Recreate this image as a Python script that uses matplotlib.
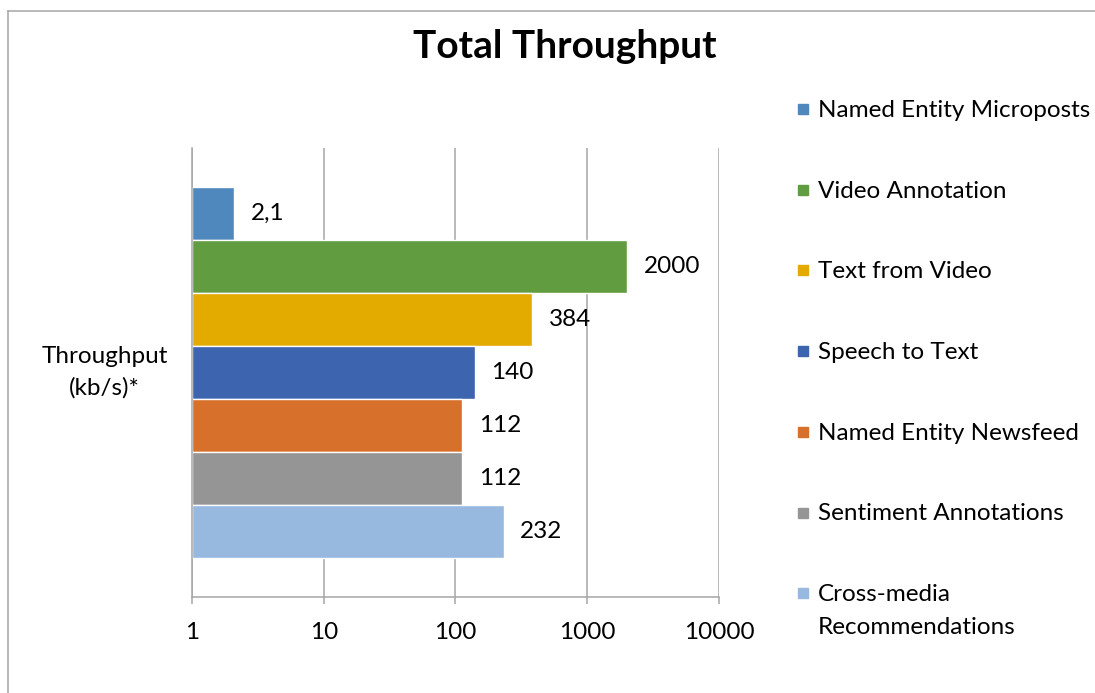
import matplotlib.pyplot as plt
from matplotlib.patches import Rectangle
from matplotlib.lines import Line2D

plt.rcParams['font.family'] = ['Lato', 'DejaVu Sans']

series = ['Named Entity Microposts', 'Video Annotation', 'Text from Video',
          'Speech to Text', 'Named Entity Newsfeed', 'Sentiment Annotations',
          'Cross-media\nRecommendations']
values = [2.1, 2000, 384, 140, 112, 112, 232]
colors = ['#4f88bd', '#629c40', '#e3aa00', '#3d64ae', '#d6702a', '#959595', '#97b8df']
category = 'Throughput\n(kb/s)*'
xticks = [1, 10, 100, 1000, 10000]

W, H = 1095, 693
fs = 17.5
fig = plt.figure(figsize=(W / 100, H / 100), dpi=100)
ax = fig.add_axes([192 / W, 1 - 597 / H, (719 - 192) / W, (597 - 148) / H])

grid_c = '#a6a6a6'
pos = list(range(len(values)))
ax.barh(pos, [v - 1 for v in values], left=1, height=1.0, color=colors,
        edgecolor='white', linewidth=1.0, zorder=2)

for p, v in zip(pos, values):
    txt = f'{v:g}'.replace('.', ',')
    ax.annotate(txt, (v, p), xytext=(12, 0), textcoords='offset points',
                ha='left', va='center', fontsize=fs, zorder=3)

ax.set_xscale('log')
ax.set_xlim(1, 10000)
ax.set_ylim(6.5 + 0.74, -0.5 - 0.74)
ax.set_xticks(xticks)
ax.set_xticklabels([str(t) for t in xticks], fontsize=fs)
ax.xaxis.set_minor_locator(plt.NullLocator())
ax.tick_params(axis='x', direction='out', length=5, width=1.1, color=grid_c, pad=13)
ax.set_yticks([3])
ax.set_yticks([])
ax.text(-24 / 527, 0.5, category, transform=ax.transAxes, ha='right', va='center',
        multialignment='center', fontsize=fs, linespacing=1.55)
ax.grid(axis='x', color=grid_c, linewidth=1.1, zorder=0)
ax.set_axisbelow(True)
for s in ['top', 'right']:
    ax.spines[s].set_visible(False)
for s in ['left', 'bottom']:
    ax.spines[s].set_color(grid_c)
    ax.spines[s].set_linewidth(1.1)

fig.text(565 / W, 1 - 47 / H, 'Total Throughput', ha='center', va='center',
         fontsize=28, fontweight='bold')

# legend, drawn by hand so the square sits on the first text line
y0, step = 109, 80.7
for i, (name, c) in enumerate(zip(series, colors)):
    yc = y0 + i * step
    fig.patches.append(Rectangle((798 / W, 1 - (yc + 5) / H), 10 / W, 10 / H,
                                 transform=fig.transFigure, color=c))
    for j, line in enumerate(name.split('\n')):
        fig.text(818 / W, 1 - (yc + 8 + j * 33) / H, line, ha='left', va='baseline',
                 fontsize=fs)

# chart frame
fig.lines.append(Line2D([8 / W, 8 / W], [0, 1 - 11 / H], transform=fig.transFigure,
                        color=grid_c, linewidth=1.1))
fig.lines.append(Line2D([8 / W, 1], [1 - 11 / H, 1 - 11 / H], transform=fig.transFigure,
                        color=grid_c, linewidth=1.1))

fig.savefig('out.png', dpi=100)
